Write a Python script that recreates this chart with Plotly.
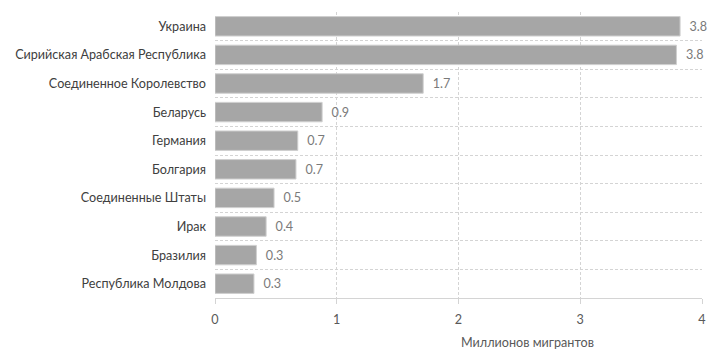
import plotly.graph_objects as go

countries = ["Украина", "Сирийская Арабская Республика", "Соединенное Королевство",
             "Беларусь", "Германия", "Болгария", "Соединенные Штаты", "Ирак",
             "Бразилия", "Республика Молдова"]
values = [3.82, 3.79, 1.71, 0.88, 0.68, 0.665, 0.485, 0.42, 0.34, 0.32]
x_ticks = [0, 1, 2, 3, 4]
x_title = "Миллионов мигрантов"

font_family = "Lato, 'Open Sans', sans-serif"

fig = go.Figure(go.Bar(
    x=values, y=countries, orientation="h",
    marker=dict(color="#a6a6a6", line=dict(color="#cfcfcf", width=1)),
    text=["\u00a0\u00a0" + f"{v:.1f}" for v in values], textposition="outside",
    textfont=dict(color="#7a7a7a", size=12.6, family=font_family),
    cliponaxis=False,
))

fig.update_layout(
    width=710, height=349,
    margin=dict(l=215, r=8, t=12, b=51, autoexpand=False),
    paper_bgcolor="white", plot_bgcolor="white",
    bargap=0.32,
    showlegend=False,
    font=dict(family=font_family, size=12.6, color="#404040"),
    xaxis=dict(range=[0, 4], tickvals=x_ticks, showgrid=True, gridcolor="#d4d4d4",
               griddash="3px,2px", gridwidth=1, zeroline=False,
               showline=True, linecolor="#d4d4d4", linewidth=1,
               ticks="outside", ticklen=5, tickcolor="#d4d4d4",
               ticklabelstandoff=5,
               tickfont=dict(size=12.6, color="#595959")),
    yaxis=dict(categoryorder="array", categoryarray=countries[::-1],
               tickson="boundaries", showgrid=True, gridcolor="#d4d4d4",
               griddash="3px,2px", ticks="", showline=False,
               ticklabelstandoff=8,
               tickfont=dict(size=12.6, color="#404040")),
)
fig.add_annotation(text=x_title, x=(527 - 215) / 487, xref="paper", y=-0.19, yref="paper",
                   showarrow=False, font=dict(size=12.6, color="#595959"))

fig.write_html("out.html")
